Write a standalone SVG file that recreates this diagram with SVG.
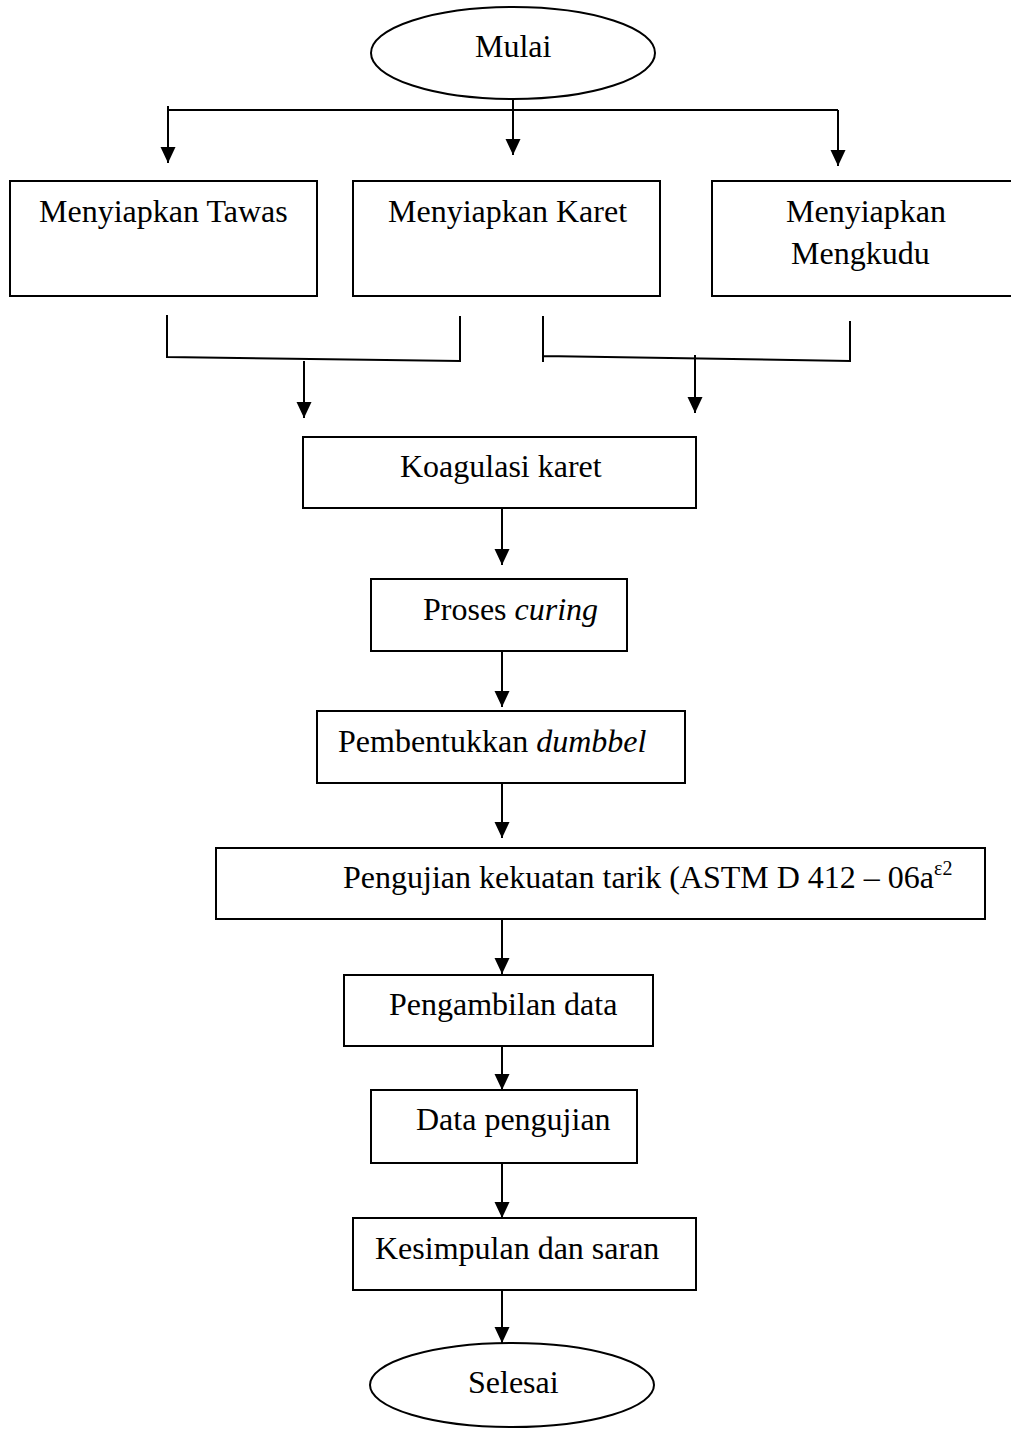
<svg xmlns="http://www.w3.org/2000/svg" width="1011" height="1432" viewBox="0 0 1011 1432">
<style>
.box{fill:#fff;stroke:#000;stroke-width:2}
.ln{fill:none;stroke:#000;stroke-width:2}
.t{font-family:"Liberation Serif","Times New Roman",serif;font-size:32px;fill:#000}
.it{font-style:italic}
</style>
<defs>
<marker id="ah" markerUnits="userSpaceOnUse" markerWidth="17" markerHeight="16" refX="16" refY="7.5" orient="auto">
<path d="M0,0 L16,7.5 L0,15 Z" fill="#000"/>
</marker>
</defs>
<rect width="1011" height="1432" fill="#fff"/>
<g id="connectors">
<path class="ln" d="M513,99 V155" marker-end="url(#ah)"/>
<path class="ln" d="M168,110 H838"/>
<path class="ln" d="M168,106 V163" marker-end="url(#ah)"/>
<path class="ln" d="M838,110 V166" marker-end="url(#ah)"/>
<path class="ln" d="M167,315 V357 L460,361 V316"/>
<path class="ln" d="M543,316 V362 M543,356 L850,361 V321"/>
<path class="ln" d="M304,361 V418" marker-end="url(#ah)"/>
<path class="ln" d="M695,355 V413" marker-end="url(#ah)"/>
<path class="ln" d="M502,508 V565" marker-end="url(#ah)"/>
<path class="ln" d="M502,651 V707" marker-end="url(#ah)"/>
<path class="ln" d="M502,783 V838" marker-end="url(#ah)"/>
<path class="ln" d="M502,919 V974" marker-end="url(#ah)"/>
<path class="ln" d="M502,1033 V1090" marker-end="url(#ah)"/>
<path class="ln" d="M502,1161 V1218" marker-end="url(#ah)"/>
<path class="ln" d="M502,1286 V1343" marker-end="url(#ah)"/>
</g>
<g id="mulai">
<ellipse class="box" cx="513" cy="53" rx="142" ry="46"/>
<text class="t" x="475" y="57">Mulai</text>
</g>
<g id="tawas">
<rect class="box" x="10" y="181" width="307" height="115"/>
<text class="t" x="39" y="222">Menyiapkan Tawas</text>
</g>
<g id="karet">
<rect class="box" x="353" y="181" width="307" height="115"/>
<text class="t" x="388" y="222">Menyiapkan Karet</text>
</g>
<g id="mengkudu">
<rect class="box" x="712" y="181" width="305" height="115"/>
<text class="t" x="786" y="222">Menyiapkan</text>
<text class="t" x="791" y="264">Mengkudu</text>
</g>
<g id="koagulasi">
<rect class="box" x="303" y="437" width="393" height="71"/>
<text class="t" x="400" y="477">Koagulasi karet</text>
</g>
<g id="curing">
<rect class="box" x="371" y="579" width="256" height="72"/>
<text class="t" x="423" y="620">Proses <tspan class="it">curing</tspan></text>
</g>
<g id="dumbbel">
<rect class="box" x="317" y="711" width="368" height="72"/>
<text class="t" x="338" y="752">Pembentukkan <tspan class="it">dumbbel</tspan></text>
</g>
<g id="pengujian">
<rect class="box" x="216" y="848" width="769" height="71"/>
<text class="t" x="343" y="888">Pengujian kekuatan tarik (ASTM D 412 – 06a<tspan font-size="20" dy="-13">ε2</tspan></text>
</g>
<g id="pengambilan">
<rect class="box" x="344" y="975" width="309" height="71"/>
<text class="t" x="389" y="1015">Pengambilan data</text>
</g>
<g id="data">
<rect class="box" x="371" y="1090" width="266" height="73"/>
<text class="t" x="416" y="1130">Data pengujian</text>
</g>
<g id="kesimpulan">
<rect class="box" x="353" y="1218" width="343" height="72"/>
<text class="t" x="375" y="1259">Kesimpulan dan saran</text>
</g>
<g id="selesai">
<ellipse class="box" cx="512" cy="1385" rx="142" ry="42"/>
<text class="t" x="468" y="1393">Selesai</text>
</g>
</svg>
